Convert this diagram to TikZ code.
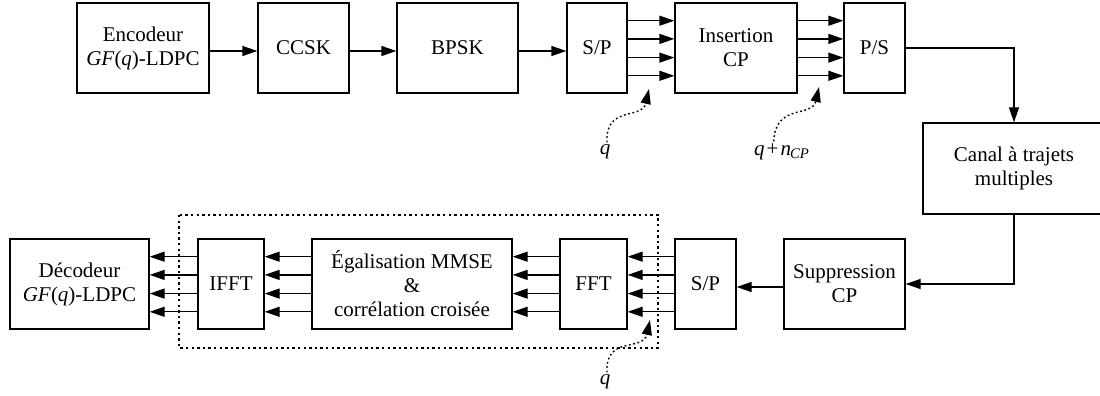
\documentclass[tikz,border=0pt]{standalone}
\usepackage{fontspec}
\setmainfont{Liberation Serif}
\usetikzlibrary{arrows.meta,calc}
\begin{document}
\begin{tikzpicture}[x=0.5pt,y=-0.5pt,
  blk/.style={draw, line width=0.65pt, inner sep=0pt, align=center,
    minimum height=45pt, font=\fontsize{10.5}{12}\selectfont},
  lbl/.style={inner sep=0pt, font=\fontsize{10.5}{12}\selectfont},
  arr/.style={line width=0.65pt, -{Triangle[length=7.5pt,width=5pt]}},
  dotarr/.style={line width=0.7pt, dash pattern=on 0.9pt off 1.3pt,
    -{Triangle[length=7.5pt,width=5pt]}},
  grp/.style={line width=0.9pt, dash pattern=on 1.2pt off 1.6pt}]
\useasboundingbox (0,0) rectangle (1100,396);
% top row
\node[blk,minimum width=66pt] (enc) at (143,48) {Encodeur\\\textit{GF}(\textit{q})-LDPC};
\node[blk,minimum width=45.5pt] (ccsk) at (303.5,48) {CCSK};
\node[blk,minimum width=60.5pt] (bpsk) at (457.5,48) {BPSK};
\node[blk,minimum width=30pt] (sp1) at (597,48) {S/P};
\node[blk,minimum width=61pt] (ins) at (736,48) {Insertion\\CP};
\node[blk,minimum width=30.5pt] (ps) at (874.5,48) {P/S};
% channel
\node[blk,minimum width=91pt,minimum height=45.5pt] (canal) at (1014,168.5) {Canal à trajets\\multiples};
% bottom row
\node[blk,minimum width=60.5pt] (supp) at (844.5,284) {Suppression\\CP};
\node[blk,minimum width=30.5pt] (sp2) at (705.5,284) {S/P};
\node[blk,minimum width=33.5pt] (fft) at (593.5,284) {FFT};
\node[blk,minimum width=100pt] (egal) at (412,284) {Égalisation MMSE\\\&\\corrélation croisée};
\node[blk,minimum width=33pt] (ifft) at (231,284) {IFFT};
\node[blk,minimum width=69.5pt] (dec) at (79.5,284) {Décodeur\\\textit{GF}(\textit{q})-LDPC};
% dotted group
\draw[grp] (179,215) rectangle (658,348);
% main arrows
\draw[arr] ($(enc.east)+(0,3)$) -- ($(ccsk.west)+(0,3)$);
\draw[arr] ($(ccsk.east)+(0,3)$) -- ($(bpsk.west)+(0,3)$);
\draw[arr] ($(bpsk.east)+(0,3)$) -- ($(sp1.west)+(0,3)$);
\foreach \d in {-27.3,-9.1,9.6,27.8} {
  \draw[arr] ($(sp1.east)+(0,\d)$) -- ($(ins.west)+(0,\d)$);
  \draw[arr] ($(ins.east)+(0,\d)$) -- ($(ps.west)+(0,\d)$);
  \draw[arr] ($(sp2.west)+(0,\d)$) -- ($(fft.east)+(0,\d)$);
  \draw[arr] ($(fft.west)+(0,\d)$) -- ($(egal.east)+(0,\d)$);
  \draw[arr] ($(egal.west)+(0,\d)$) -- ($(ifft.east)+(0,\d)$);
  \draw[arr] ($(ifft.west)+(0,\d)$) -- ($(dec.east)+(0,\d)$);
}
\draw[arr] (ps.east) -- (ps.east -| canal.north) -- (canal.north);
\draw[arr] (canal.south) -- (canal.south |- supp.east) -- (supp.east);
\draw[arr] ($(supp.west)+(0,3)$) -- ($(sp2.east)+(0,3)$);
% q labels
\node[lbl] (q1) at (605,152) {\textit{q}};
\node[lbl] (q2) at (782,152) {\textit{q}\kern1pt+\kern1pt\textit{n}\textsubscript{\kern-0.5pt\textit{CP}}};
\node[lbl] (q3) at (605,382) {\textit{q}};
\coordinate (t1) at (649,89);
\coordinate (t2) at (819,87);
\coordinate (t3) at (650,320);
\draw[dotarr] ($(q1.north)+(2,-2)$) .. controls (605,105) and (642,120) .. (t1);
\draw[dotarr] ($(q2.north west)+(20,-2)$) .. controls (775,103) and (812,118) .. (t2);
\draw[dotarr] ($(q3.north)+(2,-2)$) .. controls (605,335) and (643,352) .. (t3);
\end{tikzpicture}
\end{document}
